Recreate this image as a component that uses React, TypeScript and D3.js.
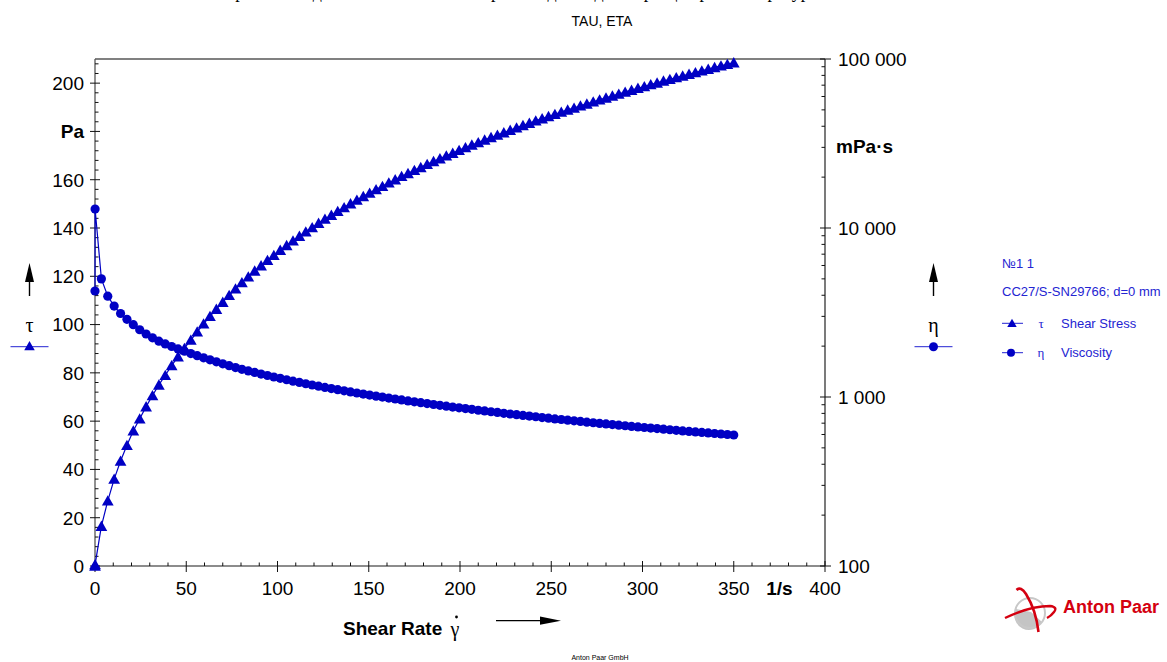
import React, { useEffect, useRef } from 'react';
import { select, scaleLinear, scaleLog, line, range, format } from 'd3';

const W = 1167;
const H = 662;

// shear rate ramp, 1/s
const shearRate = [
  0, 0.05,
  3.5, 7, 10.5, 14, 17.5, 21, 24.5, 28, 31.5, 35,
  38.5, 42, 45.5, 49, 52.5, 56, 59.5, 63, 66.5, 70,
  73.5, 77, 80.5, 84, 87.5, 91, 94.5, 98, 101.5, 105,
  108.5, 112, 115.5, 119, 122.5, 126, 129.5, 133, 136.5, 140,
  143.5, 147, 150.5, 154, 157.5, 161, 164.5, 168, 171.5, 175,
  178.5, 182, 185.5, 189, 192.5, 196, 199.5, 203, 206.5, 210,
  213.5, 217, 220.5, 224, 227.5, 231, 234.5, 238, 241.5, 245,
  248.5, 252, 255.5, 259, 262.5, 266, 269.5, 273, 276.5, 280,
  283.5, 287, 290.5, 294, 297.5, 301, 304.5, 308, 311.5, 315,
  318.5, 322, 325.5, 329, 332.5, 336, 339.5, 343, 346.5, 350,
];

// shear stress tau, Pa
const shearStress = [
  0, 0.6,
  16.5, 27, 36, 43.5, 50, 56, 61, 66, 70.6, 75,
  79.0, 83.0, 86.7, 90.2, 93.6, 97.0, 100.3, 103.4, 106.4, 109.3,
  112.1, 114.8, 117.4, 119.8, 122.2, 124.4, 126.6, 128.7, 130.8, 132.8,
  134.7, 136.6, 138.4, 140.2, 142.0, 143.7, 145.3, 146.9, 148.5, 150.1,
  151.6, 153.1, 154.5, 155.9, 157.3, 158.7, 160.0, 161.4, 162.6, 163.9,
  165.1, 166.4, 167.6, 168.7, 169.9, 171.0, 172.2, 173.3, 174.4, 175.4,
  176.5, 177.5, 178.5, 179.5, 180.5, 181.5, 182.5, 183.4, 184.4, 185.3,
  186.2, 187.1, 188.0, 188.9, 189.7, 190.6, 191.4, 192.3, 193.1, 193.9,
  194.7, 195.5, 196.3, 197.1, 197.9, 198.6, 199.4, 200.1, 200.9, 201.6,
  202.3, 203.0, 203.7, 204.4, 205.1, 205.8, 206.5, 207.2, 207.8, 208.5,
];

// viscosity eta, mPa·s
const viscosity = [
  4240, 12950,
  5000, 3950, 3450, 3120, 2880, 2680, 2500, 2360, 2240, 2140,
  2060, 1990, 1925, 1865, 1808, 1756, 1706, 1659, 1614, 1572,
  1532, 1494, 1458, 1426, 1397, 1367, 1340, 1313, 1289, 1265,
  1241, 1220, 1198, 1178, 1159, 1140, 1122, 1105, 1088, 1072,
  1056, 1041, 1027, 1012, 999, 986, 973, 961, 948, 937,
  925, 914, 903, 893, 883, 872, 863, 854, 845, 835,
  827, 818, 810, 801, 793, 786, 778, 771, 764, 756,
  749, 742, 736, 729, 723, 717, 710, 704, 698, 693,
  687, 681, 676, 670, 665, 660, 655, 650, 645, 640,
  635, 630, 626, 621, 617, 613, 608, 604, 600, 596,
];

const rateTicks = [0, 50, 100, 150, 200, 250, 300, 350, 400];
const stressTicks = [0, 20, 40, 60, 80, 100, 120, 140, 160, 180, 200];
const viscTicks = [100, 1000, 10000, 100000];

const SANS = '"Liberation Sans", Arial, sans-serif';
const SERIF = '"Liberation Serif", "Times New Roman", serif';
const BLUE = '#0000c4';
const LEGEND_BLUE = '#2424d2';
const RED = '#d40010';

const tri = (s) => `M0,${-s} L${s * 1.05},${s * 0.85} L${-s * 1.05},${s * 0.85} Z`;

const App = () => {
  const svgRef = useRef(null);

  useEffect(() => {
    const svg = select(svgRef.current);
    svg.selectAll('*').remove();

    const left = 95, right = 825, top = 59, bottom = 566;

    const x = scaleLinear().domain([0, 400]).range([left, right]);
    const yTau = scaleLinear().domain([0, 210]).range([bottom, top]);
    const yEta = scaleLog().domain([100, 100000]).range([bottom, top]);

    svg.append('rect').attr('width', W).attr('height', H).attr('fill', '#fff');

    // header line, cut off at the top edge as in the print, and the chart title
    svg.append('text')
      .attr('x', 485).attr('y', -2)
      .attr('text-anchor', 'middle')
      .style('font-family', SERIF).style('font-size', '18px')
      .text('Зависимость напряжения сдвига и вязкости от скорости сдвига для образца при температуре 20 °С');

    svg.append('text')
      .attr('x', 602).attr('y', 26)
      .attr('text-anchor', 'middle')
      .style('font-family', SANS).style('font-size', '14px')
      .text('TAU, ETA');

    // frame
    svg.append('line').attr('x1', left).attr('x2', right).attr('y1', top).attr('y2', top)
      .attr('stroke', '#808080').attr('stroke-width', 2);
    svg.append('line').attr('x1', left).attr('x2', left).attr('y1', top).attr('y2', bottom)
      .attr('stroke', '#555').attr('stroke-width', 1.3);
    svg.append('line').attr('x1', left).attr('x2', right).attr('y1', bottom).attr('y2', bottom)
      .attr('stroke', '#666').attr('stroke-width', 1.5);
    svg.append('line').attr('x1', right).attr('x2', right).attr('y1', top).attr('y2', bottom)
      .attr('stroke', '#222').attr('stroke-width', 1.2);

    const ticks = svg.append('g').attr('stroke', '#111').attr('stroke-width', 1);

    // left axis (tau)
    range(0, 211, 4).filter(v => v % 20 !== 0).forEach(v => {
      ticks.append('line').attr('x1', left).attr('x2', left + 3.5)
        .attr('y1', yTau(v)).attr('y2', yTau(v));
    });
    stressTicks.forEach(v => {
      ticks.append('line').attr('x1', left - 5).attr('x2', left + 5)
        .attr('y1', yTau(v)).attr('y2', yTau(v));
      svg.append('text')
        .attr('x', 84).attr('y', yTau(v)).attr('dy', '0.36em')
        .attr('text-anchor', 'end')
        .style('font-family', SANS).style('font-size', '19px')
        .style('font-weight', v === 180 ? 'bold' : 'normal')
        .text(v === 180 ? 'Pa' : String(v));
    });

    // right axis (eta, log)
    viscTicks.slice(0, -1).forEach(d => {
      range(2, 10).forEach(m => {
        const v = d * m;
        ticks.append('line').attr('x1', right - 3.5).attr('x2', right)
          .attr('y1', yEta(v)).attr('y2', yEta(v));
      });
    });
    const fmt = format(',');
    viscTicks.forEach(v => {
      ticks.append('line').attr('x1', right - 5).attr('x2', right + 6)
        .attr('y1', yEta(v)).attr('y2', yEta(v));
      svg.append('text')
        .attr('x', 838).attr('y', yEta(v)).attr('dy', '0.36em')
        .style('font-family', SANS).style('font-size', '19px')
        .text(fmt(v).replace(/,/g, ' '));
    });
    svg.append('text')
      .attr('x', 836).attr('y', 146).attr('dy', '0.36em')
      .style('font-family', SANS).style('font-size', '19px').style('font-weight', 'bold')
      .text('mPa·s');

    // bottom axis (shear rate)
    range(10, 400, 10).filter(v => v % 50 !== 0).forEach(v => {
      ticks.append('line').attr('x1', x(v)).attr('x2', x(v))
        .attr('y1', bottom - 3.5).attr('y2', bottom);
    });
    rateTicks.forEach(v => {
      ticks.append('line').attr('x1', x(v)).attr('x2', x(v))
        .attr('y1', bottom - 5).attr('y2', bottom + 6);
      svg.append('text')
        .attr('x', x(v)).attr('y', 595)
        .attr('text-anchor', 'middle')
        .style('font-family', SANS).style('font-size', '19px')
        .text(String(v));
    });
    svg.append('text')
      .attr('x', x(375)).attr('y', 595)
      .attr('text-anchor', 'middle')
      .style('font-family', SANS).style('font-size', '19px').style('font-weight', 'bold')
      .text('1/s');

    // x axis title with arrow
    svg.append('text')
      .attr('x', 343).attr('y', 635)
      .style('font-family', SANS).style('font-size', '19px').style('font-weight', 'bold')
      .text('Shear Rate');
    svg.append('text')
      .attr('x', 455).attr('y', 636)
      .attr('text-anchor', 'middle')
      .style('font-family', SERIF).style('font-size', '20px')
      .text('γ');
    svg.append('circle').attr('cx', 456.5).attr('cy', 617).attr('r', 1.4).attr('fill', '#000');
    svg.append('line').attr('x1', 496).attr('x2', 542).attr('y1', 620.7).attr('y2', 620.7)
      .attr('stroke', '#000').attr('stroke-width', 1.3);
    svg.append('path').attr('d', 'M540,616.6 L561,620.7 L540,624.8 Z').attr('fill', '#000');

    // data
    const pts = shearRate.map((g, i) => ({ g, tau: shearStress[i], eta: viscosity[i] }));

    const etaLine = line().x(d => x(d.g)).y(d => yEta(d.eta));
    const tauLine = line().x(d => x(d.g)).y(d => yTau(d.tau));

    svg.append('path').datum(pts).attr('d', etaLine)
      .attr('fill', 'none').attr('stroke', BLUE).attr('stroke-width', 1.2);
    svg.append('g').selectAll('circle').data(pts).enter().append('circle')
      .attr('cx', d => x(d.g)).attr('cy', d => yEta(d.eta)).attr('r', 4.6)
      .attr('fill', BLUE);

    svg.append('path').datum(pts).attr('d', tauLine)
      .attr('fill', 'none').attr('stroke', BLUE).attr('stroke-width', 1.2);
    svg.append('g').selectAll('path').data(pts).enter().append('path')
      .attr('d', tri(5.6))
      .attr('transform', d => `translate(${x(d.g)},${yTau(d.tau)})`)
      .attr('fill', BLUE);

    // axis keys (tau left, eta right)
    const axisKey = (cx, sym, isTri) => {
      svg.append('line').attr('x1', cx).attr('x2', cx).attr('y1', 296).attr('y2', 280)
        .attr('stroke', '#000').attr('stroke-width', 1.4);
      svg.append('path').attr('d', `M${cx - 4.5},282 L${cx},263 L${cx + 4.5},282 Z`).attr('fill', '#000');
      svg.append('text')
        .attr('x', cx).attr('y', 332)
        .attr('text-anchor', 'middle')
        .style('font-family', SERIF).style('font-size', '20px')
        .text(sym);
      svg.append('line').attr('x1', cx - 19).attr('x2', cx + 19).attr('y1', 346.7).attr('y2', 346.7)
        .attr('stroke', LEGEND_BLUE).attr('stroke-width', 1);
      if (isTri) {
        svg.append('path').attr('d', tri(5)).attr('transform', `translate(${cx},346)`).attr('fill', BLUE);
      } else {
        svg.append('circle').attr('cx', cx).attr('cy', 346.7).attr('r', 4.5).attr('fill', BLUE);
      }
    };
    axisKey(29.5, 'τ', true);
    axisKey(933.5, 'η', false);

    // series legend
    const lg = svg.append('g')
      .style('font-family', SANS).style('font-size', '13px').attr('fill', LEGEND_BLUE);
    lg.append('text').attr('x', 1002).attr('y', 268).text('№1 1');
    lg.append('text').attr('x', 1002).attr('y', 296).text('CC27/S-SN29766; d=0 mm');
    const rows = [
      { y: 323.3, sym: 'τ', name: 'Shear Stress', isTri: true },
      { y: 352.7, sym: 'η', name: 'Viscosity', isTri: false },
    ];
    rows.forEach(r => {
      lg.append('line').attr('x1', 1002).attr('x2', 1023).attr('y1', r.y).attr('y2', r.y)
        .attr('stroke', LEGEND_BLUE).attr('stroke-width', 1);
      if (r.isTri) {
        lg.append('path').attr('d', tri(4.5)).attr('transform', `translate(1012,${r.y})`).attr('fill', BLUE);
      } else {
        lg.append('circle').attr('cx', 1011).attr('cy', r.y).attr('r', 4).attr('fill', BLUE);
      }
      lg.append('text').attr('x', 1041).attr('y', r.y + 4.5)
        .attr('text-anchor', 'middle')
        .style('font-family', SERIF).style('font-size', '13px')
        .text(r.sym);
      lg.append('text').attr('x', 1061).attr('y', r.y + 4.5).text(r.name);
    });

    // Anton Paar logo
    const logo = svg.append('g');
    logo.append('path')
      .attr('d', 'M1016,609 A14.5,14.5 0 0 0 1042,622 L1031,612 Z')
      .attr('fill', '#c4c4c4');
    logo.append('circle').attr('cx', 1030).attr('cy', 613).attr('r', 15)
      .attr('fill', 'none').attr('stroke', '#c8c8c8').attr('stroke-width', 2);
    logo.append('path')
      .attr('d', 'M1016.5,590 Q1021,586 1026,594 Q1036,610 1038.5,632')
      .attr('fill', 'none').attr('stroke', RED).attr('stroke-width', 2.6);
    logo.append('path')
      .attr('d', 'M1005,618 Q1030,606 1050,606 Q1058,607 1054,612 Q1051,616 1047,618')
      .attr('fill', 'none').attr('stroke', RED).attr('stroke-width', 2.4);
    svg.append('text')
      .attr('x', 1063).attr('y', 613)
      .style('font-family', SANS).style('font-size', '18px').style('font-weight', 'bold')
      .attr('fill', RED)
      .text('Anton Paar');

    svg.append('text')
      .attr('x', 600).attr('y', 660)
      .attr('text-anchor', 'middle')
      .style('font-family', SANS).style('font-size', '7px')
      .text('Anton Paar GmbH');
  }, []);

  return (
    <svg
      ref={svgRef}
      width={W}
      height={H}
      style={{ position: 'absolute', left: 0, top: 0, display: 'block' }}
    />
  );
};

export default App;
